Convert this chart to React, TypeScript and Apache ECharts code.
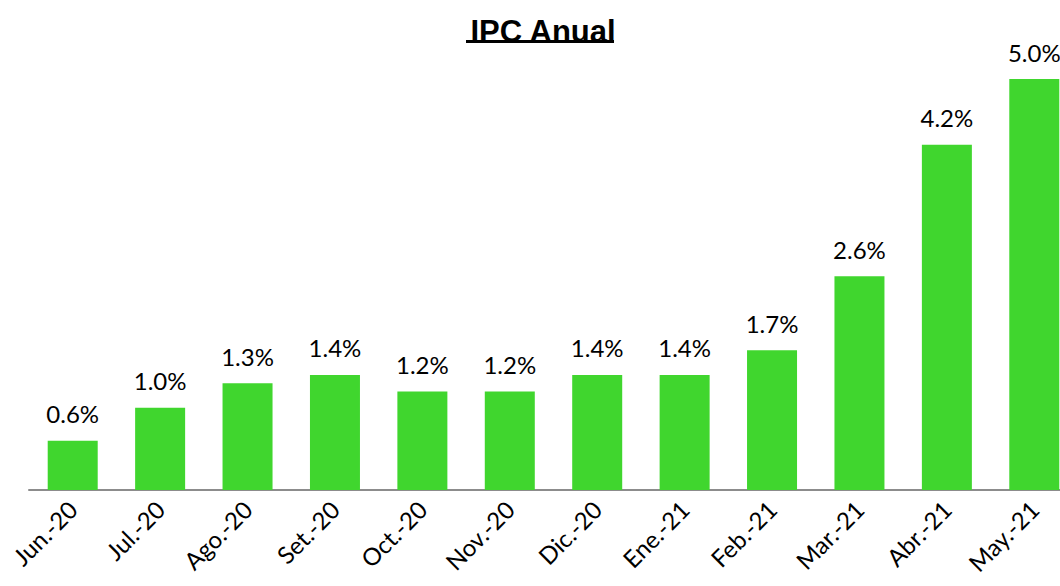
import React, { useEffect, useRef } from "react";
import * as echarts from "echarts";

const categories = ["Jun.-20", "Jul.-20", "Ago.-20", "Set.-20", "Oct.-20", "Nov.-20", "Dic.-20", "Ene.-21", "Feb.-21", "Mar.-21", "Abr.-21", "May.-21"];
const values = [0.6, 1.0, 1.3, 1.4, 1.2, 1.2, 1.4, 1.4, 1.7, 2.6, 4.2, 5.0];
const titleText = "IPC Anual";

export default function App() {
  const ref = useRef<HTMLDivElement>(null);
  useEffect(() => {
    if (!ref.current) return;
    const chart = echarts.init(ref.current, undefined, { renderer: "svg" });
    chart.setOption({
      animation: false,
      backgroundColor: "#ffffff",
      title: {
        text: titleText,
        left: 538,
        textAlign: "center",
        top: 11,
        textStyle: { fontFamily: "Liberation Sans", fontWeight: "bold", fontSize: 31, color: "#000" },
      },
      graphic: [
        { type: "rect", shape: { x: 466, y: 40, width: 148, height: 3 }, style: { fill: "#000" } },
      ],
      grid: { left: 29, right: 2, top: 38, bottom: 96, containLabel: false },
      xAxis: {
        type: "category",
        data: categories,
        axisLine: { lineStyle: { color: "#8c8c8c", width: 2 } },
        axisTick: { show: false },
        axisLabel: { rotate: 45, fontFamily: "Lato", fontSize: 24, color: "#000", margin: 15, interval: 0 },
      },
      yAxis: { type: "value", min: 0, max: 5.5, show: false, splitLine: { show: false } },
      series: [
        {
          type: "bar",
          data: values,
          barWidth: 50,
          itemStyle: { color: "#40D62E" },
          label: {
            show: true,
            position: "top",
            distance: 15,
            fontFamily: "Lato",
            fontSize: 24,
            color: "#000",
            formatter: (p: any) => p.value.toFixed(1) + "%",
          },
        },
      ],
    });
    return () => chart.dispose();
  }, []);
  return (
    <div style={{ position: "fixed", left: 0, top: 0, width: 1060, height: 586, overflow: "hidden", background: "#fff" }}>
      <div ref={ref} style={{ width: 1080, height: 586 }} />
    </div>
  );
}
